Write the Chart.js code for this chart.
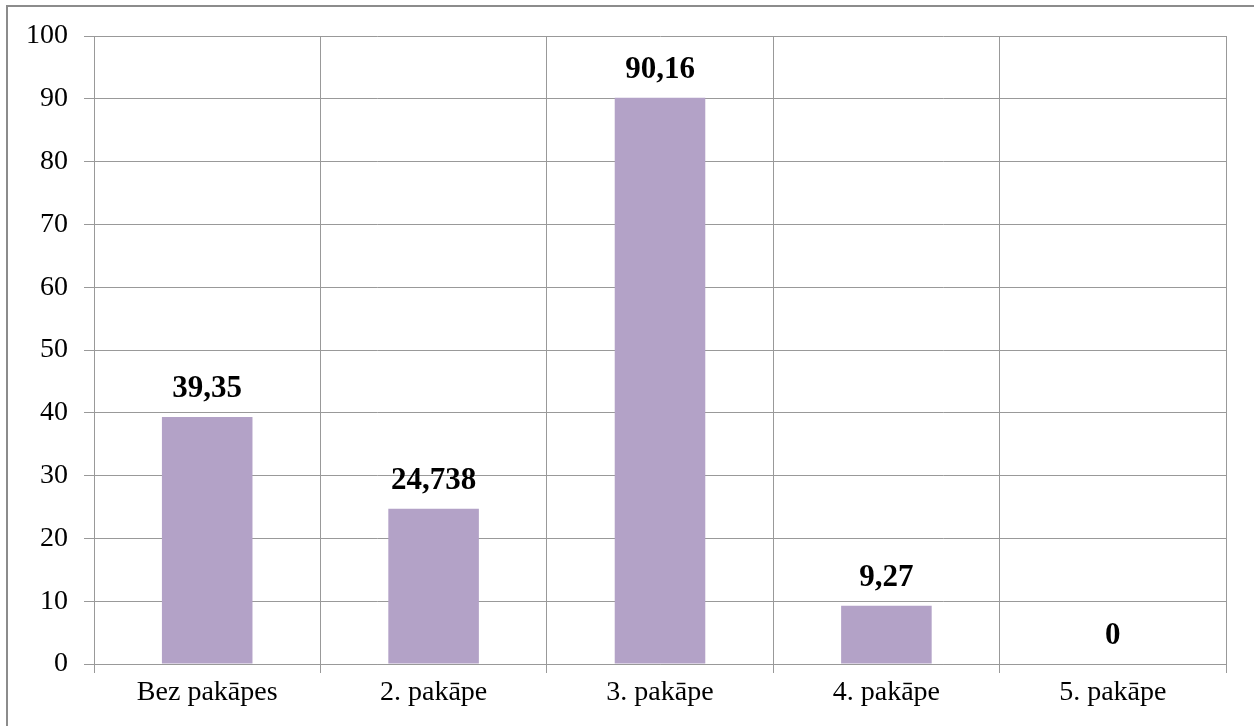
<!DOCTYPE html>
<html>
<head>
<meta charset="utf-8">
<script src="https://cdn.jsdelivr.net/npm/chart.js@4"></script>
<style>
  html, body { margin: 0; padding: 0; background: #fff; }
  #wrap { position: absolute; left: 0; top: 0; width: 1254px; height: 726px; overflow: hidden; }
  #frame { position: absolute; left: 6px; top: 5px; width: 1260px; height: 740px;
           border: 2px solid #8c8c8c; box-sizing: border-box; pointer-events: none; }
</style>
</head>
<body>
<div id="wrap">
  <canvas id="chart" width="1254" height="726"></canvas>
  <div id="frame"></div>
</div>
<script>
// dati
const categories = ['Bez pakāpes', '2. pakāpe', '3. pakāpe', '4. pakāpe', '5. pakāpe'];
const values = [39.35, 24.738, 90.16, 9.27, 0];
const yTicks = [0, 10, 20, 30, 40, 50, 60, 70, 80, 90, 100];

const serif = "'Liberation Serif', 'Times New Roman', serif";

// vērtību uzraksti virs stabiņiem
const valueLabels = {
    id: 'valueLabels',
    afterDatasetsDraw(chart) {
        const ctx = chart.ctx;
        const meta = chart.getDatasetMeta(0);
        ctx.save();
        ctx.font = 'bold 31px ' + serif;
        ctx.fillStyle = '#000';
        ctx.textAlign = 'center';
        ctx.textBaseline = 'middle';
        meta.data.forEach((bar, i) => {
            const txt = String(values[i]).replace('.', ',');
            ctx.fillText(txt, bar.x, bar.y - 28);
        });
        ctx.restore();
    }
};

new Chart(document.getElementById('chart').getContext('2d'), {
    type: 'bar',
    data: {
        labels: categories,
        datasets: [{
            data: values,
            backgroundColor: '#B3A2C7',
            borderWidth: 0,
            barPercentage: 0.4,
            categoryPercentage: 1.0
        }]
    },
    options: {
        responsive: false,
        animation: false,
        layout: { padding: { left: 0, top: 36, right: 28, bottom: 0 } },
        plugins: {
            legend: { display: false },
            tooltip: { enabled: false }
        },
        scales: {
            x: {
                grid: { color: '#999', lineWidth: 1, offset: true, tickLength: 9 },
                border: { color: '#999' },
                ticks: { color: '#000', font: { family: serif, size: 28 }, padding: 3 },
                afterFit(scale) { scale.height = 62; }
            },
            y: {
                min: 0,
                max: 100,
                afterBuildTicks(scale) { scale.ticks = yTicks.map(v => ({ value: v })); },
                grid: { color: '#999', lineWidth: 1, tickLength: 10 },
                border: { color: '#999' },
                ticks: { color: '#000', font: { family: serif, size: 28 }, padding: 16 },
                afterFit(scale) { scale.width = 94; }
            }
        }
    },
    plugins: [valueLabels]
});
</script>
</body>
</html>
